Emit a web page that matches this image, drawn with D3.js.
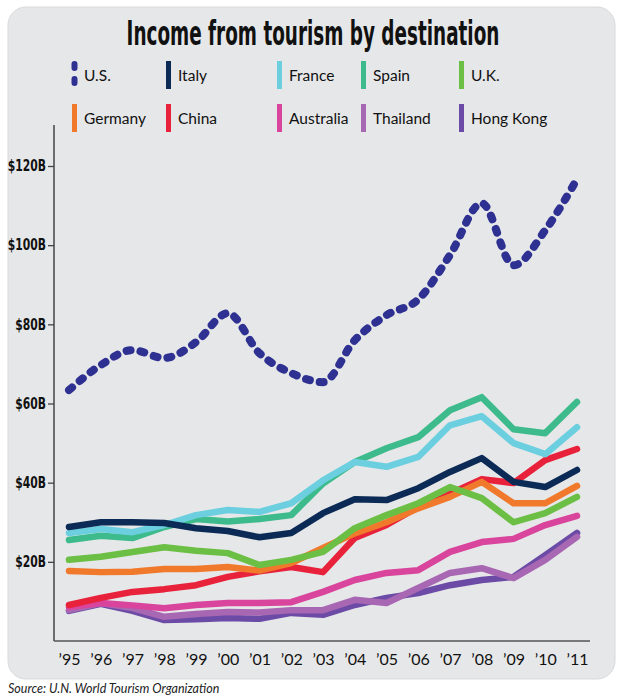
<!DOCTYPE html>
<html>
<head>
<meta charset="utf-8">
<script src="https://cdn.jsdelivr.net/npm/d3@7"></script>
<style>
  body { margin: 0; background: #fff; }
  svg { display: block; }
</style>
</head>
<body>
<script>
// chart data (billions of US dollars)
var years = [1995, 1996, 1997, 1998, 1999, 2000, 2001, 2002, 2003, 2004, 2005, 2006, 2007, 2008, 2009, 2010, 2011];
var yTicks = [20, 40, 60, 80, 100, 120];

var us        = [63.4, 69.7, 73.5, 71.5, 75.5, 82.8, 72.7, 67.7, 65.4, 76, 82.3, 86.3, 97.5, 110.6, 94.9, 103.8, 116.7];
var italy     = [28.8, 30, 30, 29.8, 28.5, 27.8, 26.2, 27.3, 32.3, 35.8, 35.6, 38.6, 42.7, 46.2, 40.2, 38.9, 43.2];
var france    = [27.3, 28.3, 27.5, 29.3, 31.8, 33.1, 32.6, 34.8, 40.6, 45.2, 44, 46.5, 54.5, 56.8, 50, 47.2, 54];
var spain     = [25.5, 26.6, 26, 28.8, 30.8, 30.2, 30.8, 31.8, 39.8, 45.2, 48.7, 51.5, 58.3, 61.6, 53.5, 52.5, 60.4];
var uk        = [20.5, 21.3, 22.5, 23.7, 22.8, 22.2, 19.2, 20.5, 22.5, 28.5, 31.8, 34.8, 38.9, 36.1, 30, 32.3, 36.4];
var germany   = [17.7, 17.4, 17.5, 18.2, 18.2, 18.7, 17.8, 19.7, 23.5, 27.2, 30, 33.5, 36.4, 40.2, 34.8, 34.8, 39.2];
var china     = [9.1, 10.9, 12.4, 13.1, 14.1, 16.2, 17.6, 18.7, 17.4, 26, 29.3, 33.9, 37.2, 40.9, 39.9, 45.7, 48.5];
var australia = [8.6, 9.6, 9, 8.3, 9.1, 9.6, 9.6, 9.8, 12.4, 15.4, 17.2, 17.9, 22.5, 25, 25.8, 29.3, 31.6];
var thailand  = [7.8, 9.6, 8.3, 6.1, 6.8, 7.3, 7.2, 7.8, 7.8, 10.4, 9.6, 13.4, 17.2, 18.4, 15.9, 20.5, 26.3];
var hongkong  = [7.6, 9.4, 7.6, 5.3, 5.5, 5.8, 5.6, 7.1, 6.6, 9.1, 10.9, 12.1, 14.1, 15.4, 16.2, 21.7, 27.3];

var names  = ["U.S.", "Italy", "France", "Spain", "U.K.", "Germany", "China", "Australia", "Thailand", "Hong Kong"];
var values = [us, italy, france, spain, uk, germany, china, australia, thailand, hongkong];
var colors = ["#2e3192", "#0b2a55", "#6ccfe0", "#3dbb8c", "#6cbf45", "#f0792b", "#e8223a", "#d9449c", "#a867b2", "#6b4ba6"];

var width = 621, height = 700;
var condensed = "'Liberation Sans Narrow', 'DejaVu Sans Condensed', sans-serif";

var svg = d3.select("body").append("svg")
    .attr("width", width)
    .attr("height", height);

// grey panel
svg.append("rect")
    .attr("x", 8).attr("y", 7)
    .attr("width", 607).attr("height", 672)
    .attr("rx", 18)
    .attr("fill", "#e6e7e8")
    .attr("stroke", "#d9dadb");

// title, squeezed horizontally to the width of the original
var title = svg.append("text")
    .attr("text-anchor", "middle")
    .style("font-family", condensed)
    .style("font-weight", "bold")
    .style("font-size", "33px")
    .attr("fill", "#111")
    .text("Income from tourism by destination");
var tw = title.node().getComputedTextLength();
title.attr("transform", "translate(313,45) scale(" + (373 / tw) + ",1)");

// scales
var x = d3.scaleLinear().domain([1995, 2011]).range([69, 577]);
var y = d3.scaleLinear().domain([0, 120]).range([641, 166]);

// y axis
var yAxis = svg.append("g")
    .attr("transform", "translate(54,0)")
    .call(d3.axisLeft(y).tickValues(yTicks).tickSize(6).tickPadding(4)
        .tickFormat(function (d) { return "$" + d + "B"; }));
yAxis.select(".domain").remove();
yAxis.selectAll(".tick line").attr("stroke", "#444").attr("stroke-width", 1.3);
yAxis.selectAll(".tick text")
    .attr("x", -10)
    .attr("transform", "scale(0.8,1)")
    .style("font-family", condensed)
    .style("font-weight", "bold")
    .style("font-size", "15px")
    .attr("fill", "#111");

svg.append("line")
    .attr("x1", 54).attr("x2", 54)
    .attr("y1", 125).attr("y2", 641)
    .attr("stroke", "#444").attr("stroke-width", 1.5);

// x axis
var xAxis = svg.append("g")
    .attr("transform", "translate(0,641)")
    .call(d3.axisBottom(x).tickValues(years).tickSize(0).tickPadding(13)
        .tickFormat(function (d) { return "\u2019" + String(d).slice(2); }));
xAxis.select(".domain").remove();
xAxis.selectAll(".tick text")
    .style("font-family", "Lato, 'Open Sans', sans-serif")
    .style("font-size", "16px")
    .attr("fill", "#111");

svg.append("line")
    .attr("x1", 54).attr("x2", 590)
    .attr("y1", 641).attr("y2", 641)
    .attr("stroke", "#555").attr("stroke-width", 1.5);

// lines, drawn from last legend entry to first so U.S. sits on top
var line = d3.line()
    .x(function (d, i) { return x(years[i]); })
    .y(function (d) { return y(d); });

var usLine = d3.line()
    .x(function (d, i) { return x(years[i]); })
    .y(function (d) { return y(d); })
    .curve(d3.curveMonotoneX);

for (var k = names.length - 1; k >= 0; k--) {
    var p = svg.append("path")
        .attr("fill", "none")
        .attr("stroke", colors[k])
        .attr("stroke-linejoin", "round")
        .attr("stroke-linecap", "round");
    if (k === 0) {
        p.attr("d", usLine(values[k]))
         .attr("stroke-width", 8)
         .attr("stroke-dasharray", "4,10");
    } else {
        p.attr("d", line(values[k]))
         .attr("stroke-width", 6.5);
    }
}

// legend
var legX = [72, 166, 277, 361, 459];
var legY = [75, 118];
names.forEach(function (n, i) {
    var lx = legX[i % 5], ly = legY[Math.floor(i / 5)];
    if (i === 0) {
        svg.append("line")
            .attr("x1", lx + 2.5).attr("x2", lx + 2.5)
            .attr("y1", ly - 11).attr("y2", ly + 12)
            .attr("stroke", colors[i])
            .attr("stroke-width", 6)
            .attr("stroke-linecap", "round")
            .attr("stroke-dasharray", "4,11");
    } else {
        svg.append("rect")
            .attr("x", lx).attr("y", ly - 14)
            .attr("width", 5).attr("height", 28)
            .attr("fill", colors[i]);
    }
    svg.append("text")
        .attr("x", lx + 12).attr("y", ly + 6)
        .style("font-family", "Lato, 'Open Sans', sans-serif")
        .style("font-size", "15.5px")
        .attr("fill", "#111")
        .text(n);
});

// source
svg.append("text")
    .attr("x", 8).attr("y", 693)
    .style("font-family", "Lato, 'Open Sans', sans-serif")
    .style("font-style", "italic")
    .style("font-size", "12.5px")
    .attr("fill", "#222")
    .text("Source: U.N. World Tourism Organization");
</script>
</body>
</html>
